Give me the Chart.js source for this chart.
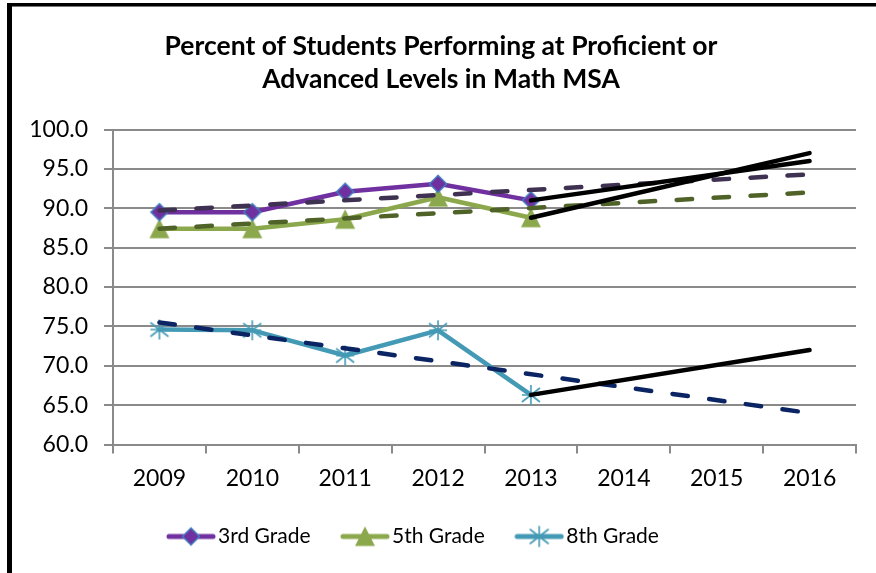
<!DOCTYPE html>
<html><head><meta charset="utf-8">
<style>html,body{margin:0;padding:0;background:#fff;}#wrap{width:876px;height:573px;position:relative;}</style>
<script src="https://cdn.jsdelivr.net/npm/chart.js@4.4.1/dist/chart.umd.min.js"></script>
</head><body><div id="wrap"><canvas id="c" width="876" height="573"></canvas></div>
<script>
// ---------- data ----------
const categories = ['2009','2010','2011','2012','2013','2014','2015','2016'];
const seriesNames = ['3rd Grade','5th Grade','8th Grade'];
const grade3 = [89.5, 89.5, 92.1, 93.1, 91.0, null, null, null];
const grade5 = [87.4, 87.4, 88.6, 91.4, 88.8, null, null, null];
const grade8 = [74.6, 74.5, 71.3, 74.5, 66.3, null, null, null];
const trend3 = [89.7, null, null, null, null, null, null, 94.3];
const trend5 = [87.4, null, null, null, null, null, null, 92.0];
const trend8 = [75.5, null, null, null, null, null, null, 64.0];
const proj3  = [null, null, null, null, 91.0, null, null, 96.0];
const proj5  = [null, null, null, null, 88.8, null, null, 97.0];
const proj8  = [null, null, null, null, 66.3, null, null, 72.0];
const yTicks = [60, 65, 70, 75, 80, 85, 90, 95, 100];
const titleLines = ['Percent of Students Performing at Proficient or', 'Advanced Levels in Math MSA'];

// ---------- style ----------
const FONT = 'Lato';
const PURPLE = '#7030A0', DIAMOND_EDGE = '#3F7FBF';
const GREEN = '#8CA84C';
const TEAL = '#449AB5';
const T3 = '#3F3151', T5 = '#4F6228', T8 = '#0B2463';
const GRID = '#8A8A8A';
const LF = 21;          // legend font size
const LEG_PAD = 38;     // legend item gap
const PSW = 33;         // legend symbol slot width
const LEGEND_X = 174.5; // first legend box start
const X_AXIS_H = 102.5 - LF - LEG_PAD;
const TITLE_SIZE = 26.5;

function mk(w, h, fn) { const c = document.createElement('canvas'); c.width = w; c.height = h; fn(c.getContext('2d'), w, h); return c; }
function diamond(ctx, cx, cy) {
  ctx.beginPath(); ctx.moveTo(cx, cy - 8.5); ctx.lineTo(cx + 8.5, cy); ctx.lineTo(cx, cy + 8.5); ctx.lineTo(cx - 8.5, cy); ctx.closePath();
  ctx.fillStyle = PURPLE; ctx.fill(); ctx.lineWidth = 1.5; ctx.strokeStyle = DIAMOND_EDGE; ctx.stroke();
}
function triangle(ctx, cx, cy) {
  ctx.beginPath(); ctx.moveTo(cx, cy - 10); ctx.lineTo(cx + 10, cy + 9.5); ctx.lineTo(cx - 10, cy + 9.5); ctx.closePath();
  ctx.fillStyle = GREEN; ctx.fill();
}
function star(ctx, cx, cy) {
  ctx.beginPath();
  ctx.moveTo(cx, cy - 10); ctx.lineTo(cx, cy + 10);
  ctx.moveTo(cx - 9, cy - 7); ctx.lineTo(cx + 9, cy + 7);
  ctx.moveTo(cx - 9, cy + 7); ctx.lineTo(cx + 9, cy - 7);
  ctx.moveTo(cx - 9, cy); ctx.lineTo(cx + 9, cy);
  ctx.lineWidth = 1.6; ctx.strokeStyle = TEAL; ctx.stroke();
}
const markers = [diamond, triangle, star];
const lineColors = [PURPLE, GREEN, TEAL];
const pointImgs = markers.map(m => mk(22, 22, (ctx) => m(ctx, 11, 11)));
const legendImgs = markers.map((m, i) => mk(50, 24, (ctx) => {
  ctx.beginPath(); ctx.moveTo(3, 12); ctx.lineTo(47, 12); ctx.lineWidth = 5; ctx.lineCap = 'round'; ctx.strokeStyle = lineColors[i]; ctx.stroke();
  m(ctx, 25, 12);
}));

const dataDs = (label, data, i) => ({
  label, data, borderColor: lineColors[i], backgroundColor: lineColors[i], borderWidth: 4.5,
  pointStyle: pointImgs[i], pointRadius: 5, pointHoverRadius: 5, order: 3, tension: 0,
  borderJoinStyle: 'round', borderCapStyle: 'round'
});
const trendDs = (data, color) => ({
  label: 'trend', data, borderColor: color, borderWidth: 4.5, borderDash: [15.5, 21.5], borderCapStyle: 'round',
  pointRadius: 0, spanGaps: true, order: 2
});
const projDs = (data) => ({
  label: 'proj', data, borderColor: '#000', borderWidth: 4.5, borderCapStyle: 'round',
  pointRadius: 0, spanGaps: true, order: 1
});

const framePlugin = {
  id: 'frame',
  beforeDraw(chart) {
    const ctx = chart.ctx; ctx.save();
    ctx.fillStyle = '#fff'; ctx.fillRect(0, 0, chart.width, chart.height);
    ctx.fillStyle = '#000'; ctx.fillRect(7, 3, 5, chart.height - 3); ctx.fillRect(7, 3, chart.width - 7, 3);
    ctx.fillStyle = '#777'; ctx.fillRect(12, 6, chart.width - 12, 1);
    ctx.restore();
  }
};
const legendPlace = {
  id: 'legendPlace',
  afterLayout(chart) { const lg = chart.legend; lg.left = LEGEND_X - LEG_PAD; lg.right = chart.width; }
};

new Chart(document.getElementById('c'), {
  type: 'line',
  data: {
    labels: categories,
    datasets: [
      dataDs(seriesNames[0], grade3, 0),
      dataDs(seriesNames[1], grade5, 1),
      dataDs(seriesNames[2], grade8, 2),
      trendDs(trend3, T3), trendDs(trend5, T5), trendDs(trend8, T8),
      projDs(proj3), projDs(proj5), projDs(proj8)
    ]
  },
  options: {
    responsive: false, animation: false, devicePixelRatio: 1,
    layout: { padding: { left: 26, right: 20, top: 0, bottom: 16 } },
    plugins: {
      title: { display: true, text: titleLines, color: '#000', font: { family: FONT, size: TITLE_SIZE, weight: 'bold', lineHeight: 33 / TITLE_SIZE }, padding: { top: 29.5, bottom: 34 } },
      legend: {
        position: 'bottom', align: 'start',
        labels: {
          color: '#000', font: { family: FONT, size: LF }, usePointStyle: true, pointStyleWidth: PSW, padding: LEG_PAD,
          generateLabels(chart) {
            return Chart.defaults.plugins.legend.labels.generateLabels(chart)
              .filter(it => it.datasetIndex < 3)
              .map(it => Object.assign(it, { pointStyle: legendImgs[it.datasetIndex] }));
          }
        }
      },
      tooltip: { enabled: false }
    },
    scales: {
      x: {
        offset: true,
        grid: { offset: true, drawOnChartArea: false, drawTicks: true, tickLength: 9, color: GRID, lineWidth: 2 },
        border: { display: true, color: GRID, width: 2 },
        ticks: { color: '#000', font: { family: FONT, size: 23 }, padding: 11, maxRotation: 0 },
        afterFit(s) { s.height = X_AXIS_H; }
      },
      y: {
        min: yTicks[0], max: yTicks[yTicks.length - 1],
        grid: { color: GRID, lineWidth: 2, tickLength: 9 },
        border: { display: true, color: GRID, width: 2 },
        ticks: { stepSize: yTicks[1] - yTicks[0], color: '#000', font: { family: FONT, size: 23 }, padding: 16, callback: v => Number(v).toFixed(1) },
        afterFit(s) { s.width = 87; }
      }
    }
  },
  plugins: [framePlugin, legendPlace]
});
</script></body></html>
